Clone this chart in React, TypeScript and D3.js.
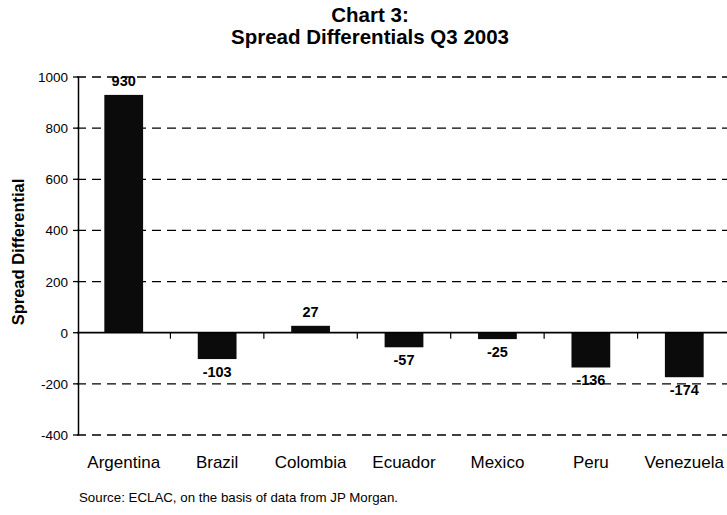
import React from "react";
import * as d3 from "d3";

const categories = ["Argentina", "Brazil", "Colombia", "Ecuador", "Mexico", "Peru", "Venezuela"];
const spreadValues = [930, -103, 27, -57, -25, -136, -174];
const yTicks = [-400, -200, 0, 200, 400, 600, 800, 1000];

const W = 727;
const H = 515;
const left = 77;
const right = 731;
const top = 77;
const bottom = 435;

export default function App() {
  const x = d3.scaleBand<string>().domain(categories).range([left, right]).paddingInner(0.585).paddingOuter(0.2925);
  const xb = d3.scaleBand<string>().domain(categories).range([left, right]);
  const y = d3.scaleLinear().domain([-400, 1000]).range([bottom, top]);
  const font = "Arial, 'Liberation Sans', Helvetica, sans-serif";

  return (
    <svg width={W} height={H} style={{ position: "absolute", left: 0, top: 0, background: "#fff" }} fontFamily={font}>
      <rect width={W} height={H} fill="#fff" />
      <text x={370} y={22} textAnchor="middle" fontSize={20.5} fontWeight="bold">Chart 3:</text>
      <text x={370} y={44} textAnchor="middle" fontSize={20.5} fontWeight="bold">Spread Differentials Q3 2003</text>

      {/* dashed gridlines */}
      {yTicks.filter(t => t !== 0).map(t => (
        <line key={t} x1={left} x2={W} y1={y(t)} y2={y(t)} stroke="#000" strokeWidth={1.3} strokeDasharray="9,6" />
      ))}

      {/* bars */}
      {categories.map((c, i) => {
        const v = spreadValues[i];
        return (
          <rect key={c} x={x(c)} width={x.bandwidth()} y={y(Math.max(0, v))} height={Math.abs(y(v) - y(0))} fill="#0b0b0b" />
        );
      })}

      {/* zero line and category ticks */}
      <line x1={left} x2={W} y1={y(0)} y2={y(0)} stroke="#000" strokeWidth={1.8} />
      {categories.slice(1).map(c => (
        <line key={c} x1={xb(c)} x2={xb(c)} y1={y(0)} y2={y(0) + 6} stroke="#000" strokeWidth={1.2} />
      ))}

      {/* y axis */}
      <line x1={left + 1.5} x2={left + 1.5} y1={top} y2={bottom} stroke="#000" strokeWidth={1.5} />
      {yTicks.map(t => (
        <g key={t}>
          <line x1={left - 4} x2={left + 1.5} y1={y(t)} y2={y(t)} stroke="#000" strokeWidth={1.3} />
          <text x={left - 9} y={y(t) + 5} textAnchor="end" fontSize={13.5}>{t}</text>
        </g>
      ))}
      <text transform={`translate(24,${(top + bottom) / 2 - 4}) rotate(-90)`} textAnchor="middle" fontSize={16.5} fontWeight="bold">Spread Differential</text>

      {/* value labels */}
      {categories.map((c, i) => {
        const v = spreadValues[i];
        const cx = (x(c) ?? 0) + x.bandwidth() / 2;
        const ly = v >= 0 ? y(v) - 9 : y(v) + 18;
        return (
          <text key={c} x={cx} y={ly} textAnchor="middle" fontSize={14.5} fontWeight="bold">{v}</text>
        );
      })}

      {/* category labels */}
      {categories.map(c => (
        <text key={c} x={(xb(c) ?? 0) + xb.bandwidth() / 2} y={468} textAnchor="middle" fontSize={17}>{c}</text>
      ))}

      <text x={79} y={502} fontSize={13.3}>Source: ECLAC, on the basis of data from JP Morgan.</text>
    </svg>
  );
}
